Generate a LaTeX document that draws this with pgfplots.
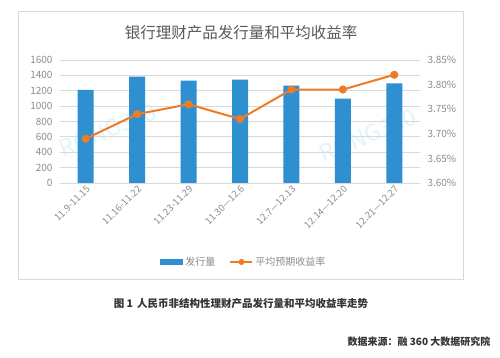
\documentclass[border=0pt]{standalone}
\usepackage{pgfplots}
\pgfplotsset{compat=1.18}
\usepackage{fontspec}
\setmainfont{Noto Sans CJK SC}
\definecolor{barblue}{HTML}{2E90D1}
\definecolor{lineorange}{HTML}{F07B27}
\definecolor{gridgray}{HTML}{D9D9D9}
\definecolor{txtgray}{HTML}{8C8C8C}
\definecolor{titlegray}{HTML}{595959}
\definecolor{wm}{HTML}{E3F5FC}
\definecolor{capdark}{HTML}{333333}
\begin{document}
\begin{tikzpicture}[x=1pt,y=1pt]
\useasboundingbox (0,0) rectangle (500,357);
\fill[white] (0,0) rectangle (500,357);
\draw[gridgray] (18,78) rectangle (463,346);
\node[text=wm, rotate=22, font=\fontsize{23}{23}\selectfont] at (108,227) {RONG360};
\node[text=wm, rotate=22, font=\fontsize{23}{23}\selectfont] at (368,222) {RONG360};
\node[text=titlegray, font=\fontsize{15.5}{16}\selectfont] at (241,324) {银行理财产品发行量和平均收益率};
\begin{axis}[
  at={(60pt,174pt)}, anchor=south west, scale only axis,
  width=360pt, height=123pt,
  xmin=-0.5, xmax=6.5, ymin=0, ymax=1600,
  ytick={0,200,...,1600},
  xtick={0,...,6},
  xticklabels={11.9-11.15,11.16-11.22,11.23-11.29,11.30—12.6,12.7—12.13,12.14—12.20,12.21—12.27},
  xticklabel style={rotate=45, anchor=north east, inner sep=1pt, font=\fontsize{9.5}{10}\selectfont, text=txtgray},
  yticklabel style={font=\fontsize{10}{11}\selectfont, text=txtgray, xshift=-4pt},
  /pgf/number format/assume math mode=true,
  /pgf/number format/1000 sep={},
  ymajorgrids, grid style={gridgray, line width=0.8pt},
  axis line style={draw=none},
  major tick length=0pt,
  legend style={at={(0.511,-0.642)}, anchor=center, draw=none, fill=none, legend columns=2,
    font=\fontsize{10}{11}\selectfont, text=txtgray,
    /tikz/every even column/.append style={column sep=12pt}},
  legend cell align=left,
]
\addplot[ybar, bar width=16pt, fill=barblue, draw=none,
  legend image code/.code={\fill[barblue] (0pt,-2.8pt) rectangle (23pt,2.8pt);}]
  coordinates {(0,1210) (1,1383) (2,1331) (3,1344) (4,1266) (5,1097) (6,1297)};
\addlegendentry{发行量}
\addlegendimage{legend image code/.code={\draw[lineorange, line width=2pt] (0pt,0pt) -- (22pt,0pt); \fill[lineorange] (11pt,0pt) circle (2.8pt);}}
\addlegendentry{平均预期收益率}
\draw[gridgray, line width=0.8pt] (axis cs:-0.5,0) -- (axis cs:6.5,0);
\end{axis}
\begin{axis}[
  at={(60pt,174pt)}, anchor=south west, scale only axis,
  width=360pt, height=123pt,
  xmin=-0.5, xmax=6.5, ymin=3.60, ymax=3.85,
  axis y line*=right, axis x line=none,
  ytick={3.60,3.65,...,3.86},
  yticklabel={\pgfmathprintnumber[fixed,fixed zerofill,precision=2]{\tick}\%},
  yticklabel style={font=\fontsize{10}{11}\selectfont, text=txtgray, xshift=4pt},
  /pgf/number format/assume math mode=true,
  axis line style={draw=none},
  major tick length=0pt,
]
\addplot[lineorange, line width=2pt, mark=*, mark size=3pt, mark options={fill=lineorange, draw=lineorange}]
  coordinates {(0,3.69) (1,3.74) (2,3.76) (3,3.73) (4,3.79) (5,3.79) (6,3.82)};
\end{axis}
\node[text=capdark, font=\bfseries\fontsize{10.5}{11}\selectfont] at (241,53) {图 1\, 人民币非结构性理财产品发行量和平均收益率走势};
\node[text=capdark, font=\bfseries\fontsize{10}{11}\selectfont, anchor=east] at (494,15) {数据来源：融 360 大数据研究院};
\end{tikzpicture}
\end{document}
